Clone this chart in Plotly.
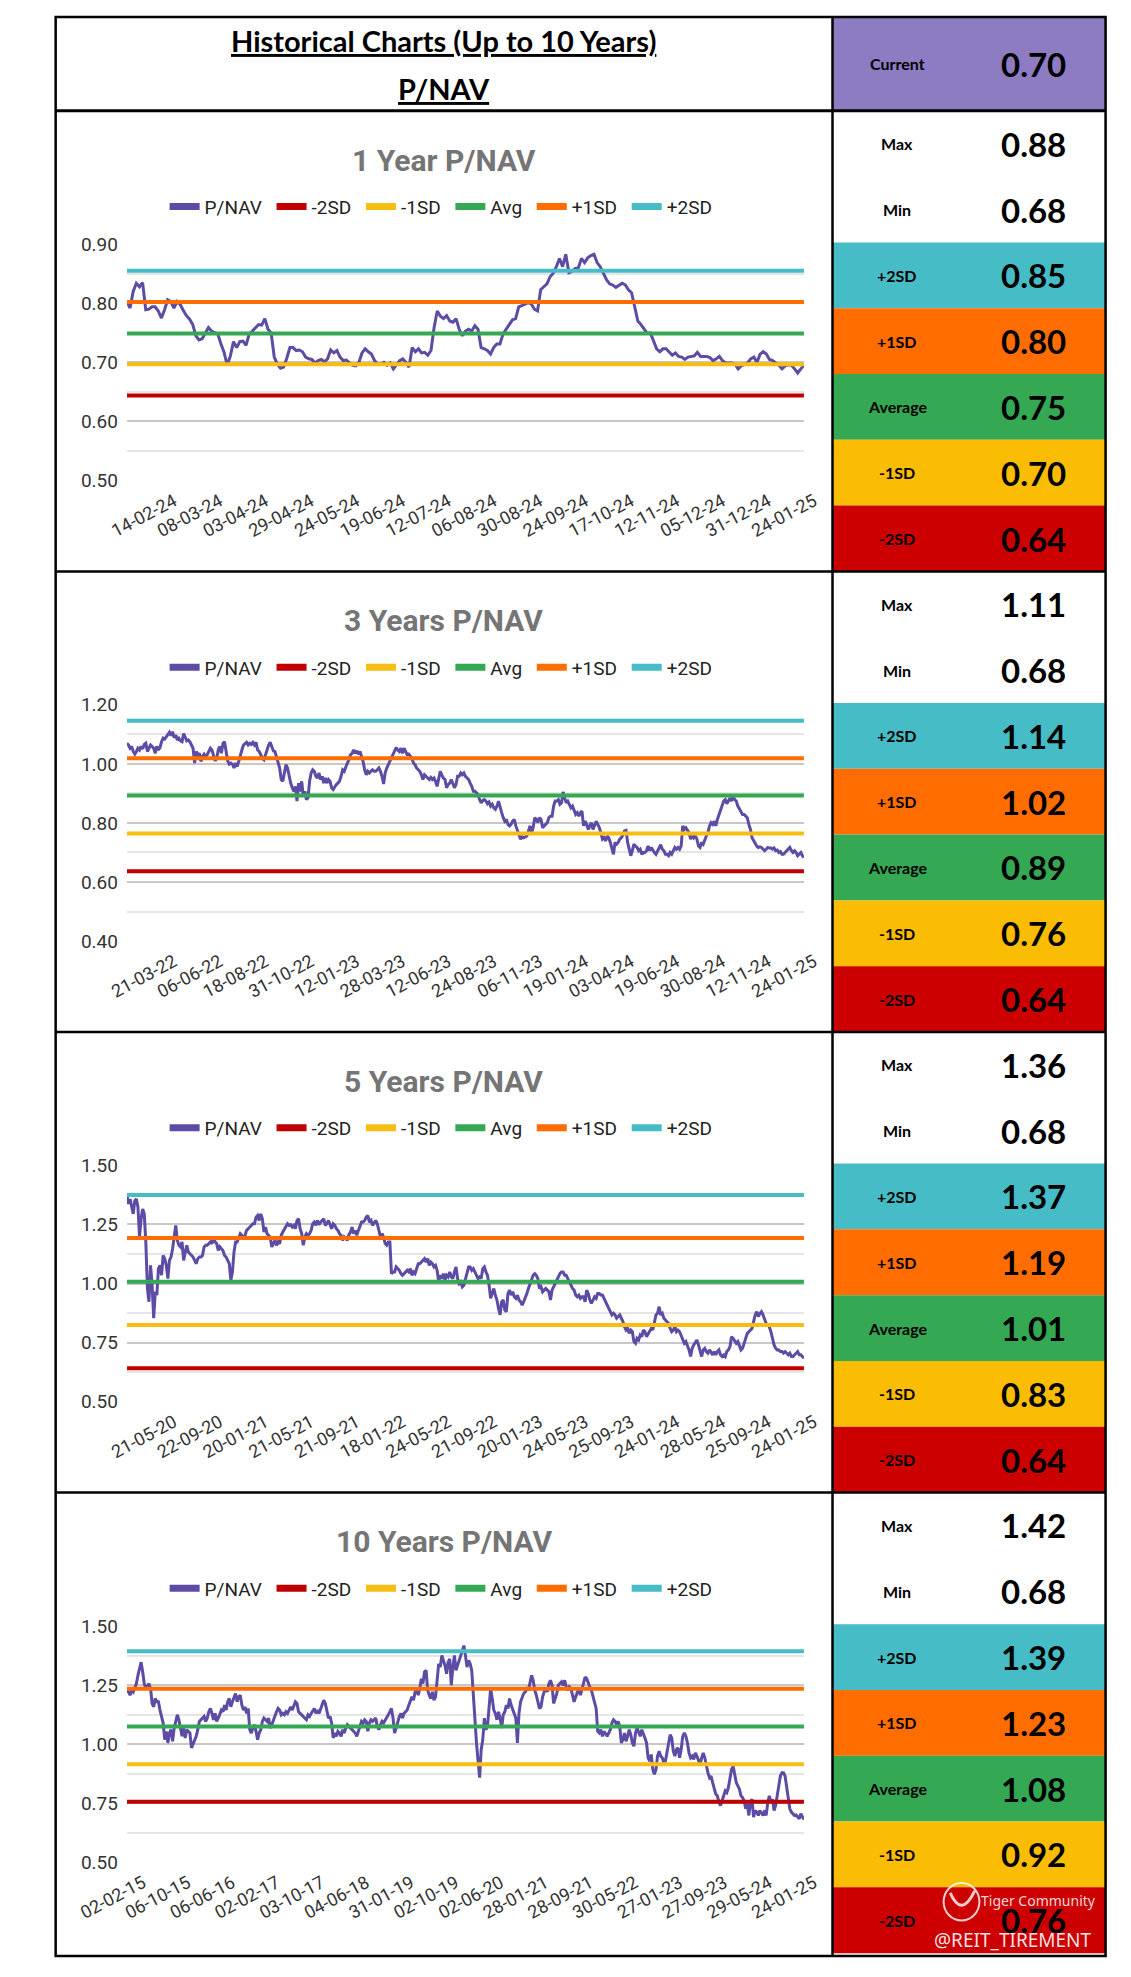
import numpy as np
import plotly.graph_objects as go

# ---------------- DATA ----------------
chart_titles = ["1 Year P/NAV", "3 Years P/NAV", "5 Years P/NAV", "10 Years P/NAV"]

pnav_1y = [
    0.803, 0.792, 0.820, 0.834, 0.828, 0.835, 0.789, 0.790, 0.794, 0.794,
    0.787, 0.775, 0.789, 0.806, 0.803, 0.792, 0.803, 0.798, 0.788, 0.779,
    0.773, 0.764, 0.745, 0.738, 0.740, 0.750, 0.759, 0.753, 0.751, 0.748,
    0.731, 0.717, 0.695, 0.711, 0.735, 0.725, 0.735, 0.736, 0.729, 0.748,
    0.753, 0.759, 0.764, 0.763, 0.774, 0.756, 0.750, 0.709, 0.697, 0.690,
    0.692, 0.707, 0.725, 0.725, 0.720, 0.721, 0.718, 0.709, 0.706, 0.705,
    0.699, 0.703, 0.705, 0.701, 0.706, 0.721, 0.716, 0.720, 0.709, 0.703,
    0.704, 0.699, 0.695, 0.694, 0.700, 0.716, 0.723, 0.718, 0.714, 0.703,
    0.697, 0.697, 0.700, 0.695, 0.699, 0.689, 0.697, 0.703, 0.706, 0.700,
    0.692, 0.725, 0.718, 0.723, 0.716, 0.717, 0.712, 0.720, 0.759, 0.787,
    0.778, 0.774, 0.779, 0.770, 0.768, 0.774, 0.756, 0.745, 0.753, 0.756,
    0.753,
    0.762, 0.756, 0.725, 0.723, 0.720, 0.714, 0.725, 0.731, 0.731, 0.748,
    0.756, 0.762, 0.772, 0.774, 0.794, 0.796, 0.799, 0.801, 0.799, 0.790,
    0.787, 0.823, 0.828, 0.833, 0.845, 0.851, 0.862, 0.876, 0.862, 0.883,
    0.852, 0.854, 0.859, 0.860, 0.876, 0.869, 0.877, 0.881, 0.883, 0.869,
    0.862, 0.850, 0.840, 0.833, 0.831, 0.827, 0.831, 0.834, 0.831, 0.823,
    0.818, 0.795, 0.770, 0.764, 0.756, 0.749, 0.750, 0.736, 0.723, 0.718,
    0.723, 0.723, 0.718, 0.712, 0.716, 0.710, 0.709, 0.705, 0.709, 0.710,
    0.711, 0.717, 0.710, 0.710, 0.710, 0.708, 0.703, 0.706, 0.710, 0.703,
    0.699, 0.699, 0.699, 0.697, 0.689, 0.694, 0.696, 0.699, 0.706, 0.709,
    0.700, 0.714, 0.718, 0.714, 0.705, 0.703, 0.699, 0.695, 0.689, 0.694,
    0.696, 0.695, 0.689, 0.682, 0.689, 0.695,
]

pnav_3y = [
    1.070, 1.064, 1.053, 1.059, 1.042, 1.033, 1.042, 1.053, 1.047, 1.059,
    1.051, 1.066, 1.070, 1.042, 1.053, 1.064, 1.059, 1.053, 1.036, 1.059,
    1.047, 1.055, 1.075, 1.087, 1.084, 1.092, 1.098, 1.107, 1.096, 1.109,
    1.089, 1.098, 1.081, 1.087, 1.078, 1.075, 1.103, 1.092, 1.078, 1.081,
    1.075, 1.064, 1.053, 1.003, 1.042, 1.031, 1.036, 1.008, 1.025, 1.033,
    1.025, 1.031, 1.042, 1.053, 1.047, 1.025, 1.010, 1.019, 1.047, 1.059,
    1.036, 1.070, 1.075, 1.042, 1.010, 0.999, 1.003, 0.999, 0.986, 1.003,
    0.991, 1.008, 1.031, 1.047, 1.064, 1.070, 1.073, 1.064, 1.070, 1.066,
    1.073, 1.064, 1.073, 1.047, 1.042, 1.031, 1.019, 1.014, 1.031, 1.042,
    1.064, 1.073, 1.059, 1.044, 1.042, 1.025, 1.003, 0.986, 0.947, 0.941,
    0.969, 0.997, 0.986, 0.958, 0.935, 0.919, 0.907, 0.924, 0.874, 0.935,
    0.907, 0.941, 0.891, 0.907, 0.879, 0.885, 0.941, 0.969, 0.980, 0.975,
    0.958, 0.952, 0.969, 0.947, 0.958, 0.935, 0.952, 0.935, 0.947, 0.941,
    0.919, 0.913, 0.924, 0.930, 0.935, 0.941, 0.958, 0.980, 0.975, 0.991,
    1.003, 1.014, 1.031, 1.036, 1.047, 1.036, 1.044, 1.033, 1.042, 1.025,
    1.008, 0.980, 0.963, 0.975, 0.969, 0.975, 0.980, 0.975, 0.975, 0.980,
    0.986, 0.975, 0.958, 0.932, 0.969, 0.986, 0.997, 1.008, 1.019, 1.031,
    1.042, 1.055, 1.047, 1.042, 1.053, 1.036, 1.053, 1.042, 1.031, 1.033,
    1.025, 1.019, 1.003, 0.997, 0.986, 0.980, 0.975, 0.963, 0.947, 0.963,
    0.958, 0.952, 0.947, 0.954, 0.947, 0.952, 0.941, 0.924, 0.947, 0.975,
    0.963, 0.952, 0.947, 0.919, 0.930, 0.935, 0.947, 0.935, 0.919, 0.930,
    0.958, 0.958, 0.969, 0.963, 0.969, 0.958, 0.952, 0.947, 0.935, 0.924,
    0.907,
    0.907, 0.902, 0.896, 0.879, 0.868, 0.876, 0.879, 0.874, 0.865, 0.871,
    0.857, 0.863, 0.851, 0.846, 0.857, 0.874, 0.851, 0.835, 0.818, 0.806,
    0.812, 0.795, 0.790, 0.795, 0.806, 0.812, 0.790, 0.773, 0.762, 0.745,
    0.753, 0.750, 0.753, 0.756, 0.773, 0.790, 0.767, 0.784, 0.818, 0.812,
    0.801, 0.818, 0.812, 0.784, 0.790, 0.795, 0.801, 0.818, 0.823, 0.823,
    0.857, 0.874, 0.874, 0.879, 0.863, 0.868, 0.905, 0.885, 0.868, 0.874,
    0.863, 0.851, 0.857, 0.840, 0.829, 0.835, 0.823, 0.835, 0.840, 0.790,
    0.806, 0.795, 0.778, 0.790, 0.801, 0.778, 0.790, 0.806, 0.795, 0.784,
    0.767, 0.745, 0.750, 0.739, 0.756, 0.750, 0.734, 0.711, 0.694, 0.734,
    0.728, 0.734, 0.745, 0.750, 0.759, 0.773, 0.775, 0.734, 0.706, 0.689,
    0.706, 0.728, 0.722, 0.717, 0.706, 0.711, 0.694, 0.700, 0.700, 0.706,
    0.722, 0.706, 0.717, 0.706, 0.700, 0.694, 0.706, 0.717, 0.726, 0.711,
    0.706, 0.694, 0.694, 0.689, 0.700, 0.694, 0.706, 0.717, 0.711, 0.717,
    0.711, 0.722, 0.790, 0.778, 0.784, 0.773, 0.767, 0.745, 0.762, 0.750,
    0.756, 0.745, 0.722, 0.717, 0.734, 0.728, 0.745, 0.756, 0.767, 0.790,
    0.801, 0.795, 0.806, 0.790, 0.812, 0.829, 0.840, 0.857, 0.874, 0.879,
    0.865, 0.874, 0.885, 0.874, 0.891, 0.879, 0.874, 0.857, 0.846, 0.835,
    0.829, 0.829, 0.823, 0.818, 0.795, 0.778, 0.750, 0.739, 0.728, 0.722,
    0.717, 0.719, 0.717, 0.711, 0.706, 0.711, 0.717, 0.715, 0.715, 0.711,
    0.715, 0.706, 0.708, 0.700, 0.703, 0.694, 0.694, 0.700, 0.706, 0.711,
    0.717, 0.706, 0.700, 0.706, 0.700, 0.689, 0.694, 0.700, 0.689, 0.683,
]

pnav_5y = [
    1.375, 1.337, 1.358, 1.330, 1.295, 1.351, 1.358, 1.323, 1.197, 1.274,
    1.316, 1.295, 1.176, 0.979, 0.923, 1.077, 0.993, 0.853, 0.965, 0.951,
    1.063, 1.077, 1.035, 1.119, 1.105, 1.077, 1.021, 1.098, 1.112, 1.147,
    1.204, 1.246, 1.183, 1.162, 1.155, 1.176, 1.098, 1.140, 1.162, 1.133,
    1.126, 1.119, 1.112, 1.098, 1.084, 1.105, 1.112, 1.112, 1.119, 1.155,
    1.162, 1.162, 1.169, 1.176, 1.169, 1.197, 1.176, 1.169, 1.140, 1.155,
    1.147, 1.140, 1.119, 1.112, 1.098, 1.084, 1.014, 1.049, 1.133, 1.176,
    1.176, 1.190, 1.211, 1.204, 1.190, 1.204, 1.225, 1.232, 1.239, 1.246,
    1.253, 1.253, 1.281, 1.288, 1.267, 1.295, 1.274, 1.218, 1.239, 1.211,
    1.204, 1.197, 1.155, 1.169, 1.183, 1.162, 1.176, 1.169, 1.204, 1.218,
    1.232, 1.246, 1.253, 1.246, 1.249, 1.239, 1.246, 1.232, 1.267, 1.274,
    1.232, 1.211, 1.162, 1.197, 1.211, 1.204, 1.211, 1.225, 1.253, 1.260,
    1.246, 1.267, 1.249, 1.260, 1.267, 1.274, 1.246, 1.253, 1.267, 1.246,
    1.232, 1.253, 1.246, 1.232, 1.225, 1.211, 1.204, 1.183, 1.197, 1.190,
    1.183, 1.207, 1.218, 1.239, 1.211, 1.225, 1.204, 1.225, 1.239, 1.260,
    1.260, 1.267, 1.281, 1.288, 1.260, 1.267, 1.246, 1.260, 1.267, 1.253,
    1.218, 1.197, 1.211, 1.197, 1.169, 1.162, 1.176, 1.176, 1.042, 1.049,
    1.049, 1.070, 1.063, 1.056, 1.042, 1.035, 1.042, 1.049, 1.056, 1.049,
    1.063, 1.035, 1.049, 1.042, 1.063, 1.084, 1.084, 1.091, 1.098, 1.105,
    1.091, 1.105, 1.077, 1.091, 1.084, 1.070, 1.077, 1.056, 1.007, 1.035,
    1.021, 1.042, 1.014, 1.035, 1.028, 1.049, 1.028, 1.021, 1.049, 1.070,
    1.021, 1.000, 1.007, 0.986, 0.993, 1.021, 1.042, 1.070, 1.070, 1.056,
    1.063,
    1.049, 1.035, 1.021, 1.028, 1.021, 1.063, 1.070, 1.049, 1.035, 0.993,
    0.937, 0.958, 0.979, 0.951, 0.930, 0.895, 0.867, 0.923, 0.930, 0.888,
    0.881, 0.958, 0.972, 0.951, 0.965, 0.944, 0.937, 0.951, 0.930, 0.923,
    0.909, 0.923, 0.937, 0.958, 0.979, 1.000, 1.021, 1.035, 1.042, 1.035,
    1.021, 0.979, 0.986, 0.965, 0.972, 0.979, 0.972, 0.965, 0.930, 0.972,
    0.986, 1.000, 1.021, 1.028, 1.042, 1.049, 1.049, 1.035, 1.035, 1.021,
    1.007, 0.986, 0.979, 0.972, 0.951, 0.944, 0.951, 0.937, 0.944, 0.944,
    0.923, 0.972, 0.958, 0.930, 0.916, 0.930, 0.944, 0.937, 0.958, 0.958,
    0.951, 0.951, 0.937, 0.916, 0.902, 0.888, 0.881, 0.867, 0.874, 0.867,
    0.853, 0.860, 0.867, 0.853, 0.839, 0.817, 0.803, 0.810, 0.789, 0.803,
    0.796, 0.754, 0.747, 0.768, 0.761, 0.782, 0.775, 0.803, 0.796, 0.775,
    0.789, 0.803, 0.810, 0.803, 0.831, 0.867, 0.874, 0.902, 0.867, 0.874,
    0.853, 0.846, 0.839, 0.831, 0.810, 0.796, 0.803, 0.817, 0.796, 0.803,
    0.796, 0.782, 0.768, 0.747, 0.754, 0.740, 0.719, 0.691, 0.726, 0.740,
    0.754, 0.761, 0.740, 0.719, 0.691, 0.719, 0.726, 0.712, 0.705, 0.719,
    0.705, 0.698, 0.712, 0.698, 0.712, 0.719, 0.698, 0.691, 0.698, 0.691,
    0.712, 0.719, 0.733, 0.775, 0.768, 0.754, 0.747, 0.754, 0.733, 0.719,
    0.726, 0.747, 0.775, 0.789, 0.796, 0.803, 0.810, 0.839, 0.867, 0.881,
    0.860, 0.874, 0.881, 0.867, 0.846, 0.831, 0.824, 0.817, 0.796, 0.761,
    0.740, 0.726, 0.719, 0.719, 0.712, 0.712, 0.705, 0.712, 0.705, 0.698,
    0.705, 0.691, 0.691, 0.698, 0.705, 0.712, 0.698, 0.698, 0.691, 0.684,
]

pnav_10y = [
    1.228, 1.221, 1.207, 1.228, 1.221, 1.235, 1.256, 1.291, 1.326, 1.347,
    1.305, 1.256, 1.235, 1.249, 1.256, 1.235, 1.172, 1.158, 1.193, 1.179,
    1.179, 1.144, 1.117, 1.089, 1.019, 1.054, 1.005, 1.047, 1.061, 1.012,
    1.068, 1.096, 1.124, 1.103, 1.061, 1.033, 1.068, 1.026, 1.061, 1.054,
    1.047, 0.984, 0.998, 1.019, 1.033, 1.061, 1.096, 1.103, 1.110, 1.117,
    1.096, 1.110, 1.137, 1.151, 1.130, 1.103, 1.130, 1.096, 1.110, 1.130,
    1.144, 1.137, 1.165, 1.144, 1.179, 1.193, 1.158, 1.179, 1.200, 1.214,
    1.179, 1.200, 1.207, 1.165, 1.144, 1.158, 1.130, 1.151, 1.061, 1.047,
    1.068, 1.082, 1.054, 1.019, 1.047, 1.061, 1.096, 1.110, 1.103, 1.096,
    1.110, 1.068, 1.082, 1.103, 1.117, 1.137, 1.151, 1.144, 1.124, 1.130,
    1.124, 1.137, 1.130, 1.144, 1.158, 1.144, 1.158, 1.179, 1.172, 1.137,
    1.130, 1.124, 1.117, 1.110, 1.103, 1.124, 1.117, 1.130, 1.144, 1.151,
    1.130, 1.144, 1.130, 1.151, 1.165, 1.186, 1.172, 1.137, 1.110, 1.117,
    1.089, 1.026, 1.047, 1.033, 1.054, 1.047, 1.033, 1.061, 1.047, 1.068,
    1.082, 1.075, 1.068, 1.061, 1.054, 1.047, 1.033, 1.054, 1.075, 1.096,
    1.089, 1.103, 1.096, 1.054, 1.089, 1.103, 1.096, 1.103, 1.110, 1.075,
    1.061, 1.082, 1.096, 1.089, 1.103, 1.110, 1.124, 1.137, 1.151, 1.110,
    1.047, 1.068, 1.096, 1.117, 1.130, 1.110, 1.130, 1.137, 1.144, 1.165,
    1.186, 1.200, 1.186, 1.221, 1.235, 1.207, 1.235, 1.277, 1.256, 1.305,
    1.312, 1.228, 1.207, 1.193, 1.221, 1.186, 1.200, 1.270, 1.340, 1.326,
    1.375, 1.354, 1.333, 1.298, 1.347, 1.361, 1.249, 1.326, 1.375, 1.312,
    1.333, 1.361, 1.375, 1.396, 1.417, 1.375, 1.326, 1.354, 1.340, 1.312,
    1.207,
    1.075, 1.005, 0.928, 0.858, 0.977, 1.019, 1.110, 1.061, 1.075, 1.158,
    1.235, 1.193, 1.144, 1.130, 1.103, 1.137, 1.110, 1.068, 1.124, 1.137,
    1.165, 1.151, 1.193, 1.165, 1.144, 1.130, 1.110, 1.005, 1.130, 1.179,
    1.200, 1.214, 1.221, 1.235, 1.228, 1.256, 1.291, 1.270, 1.228, 1.207,
    1.179, 1.151, 1.158, 1.200, 1.221, 1.235, 1.221, 1.256, 1.270, 1.249,
    1.172, 1.193, 1.214, 1.249, 1.256, 1.263, 1.249, 1.270, 1.242, 1.228,
    1.242, 1.235, 1.207, 1.179, 1.200, 1.214, 1.235, 1.207, 1.235, 1.263,
    1.284, 1.277, 1.256, 1.242, 1.228, 1.200, 1.179, 1.151, 1.054, 1.047,
    1.061, 1.033, 1.054, 1.040, 1.033, 1.047, 1.061, 1.089, 1.103, 1.096,
    1.082, 1.096, 1.075, 1.005, 1.019, 1.047, 1.012, 1.033, 1.061, 1.040,
    1.005, 0.991, 1.047, 1.068, 1.054, 1.033, 1.061, 1.047, 1.026, 1.005,
    0.942, 0.928, 0.956, 0.893, 0.872, 0.893, 0.949, 0.970, 0.949, 0.942,
    0.921, 0.928, 0.963, 1.005, 1.040, 1.026, 0.970, 0.949, 0.977, 0.984,
    0.942, 0.977, 1.033, 1.047, 1.033, 1.005, 0.963, 0.942, 0.949, 0.935,
    0.963, 0.949, 0.935, 0.914, 0.942, 0.963, 0.942, 0.907, 0.879, 0.858,
    0.865, 0.837, 0.809, 0.788, 0.781, 0.753, 0.740, 0.767, 0.781, 0.802,
    0.795, 0.816, 0.851, 0.893, 0.907, 0.865, 0.837, 0.823, 0.809, 0.781,
    0.774, 0.760, 0.726, 0.747, 0.698, 0.753, 0.767, 0.691, 0.719, 0.712,
    0.698, 0.719, 0.705, 0.698, 0.719, 0.698, 0.753, 0.781, 0.753, 0.767,
    0.719, 0.740, 0.781, 0.823, 0.865, 0.879, 0.879, 0.865, 0.823, 0.781,
    0.726, 0.712, 0.705, 0.698, 0.700, 0.691, 0.684, 0.705, 0.691, 0.681,
]

# band levels as drawn: -2SD, -1SD, Avg, +1SD, +2SD
bands_1y = [0.644, 0.697, 0.749, 0.802, 0.855]
bands_3y = [0.636, 0.764, 0.893, 1.019, 1.146]
bands_5y = [0.641, 0.824, 1.007, 1.193, 1.375]
bands_10y = [0.756, 0.915, 1.075, 1.234, 1.393]

ticks_1y = ["14-02-24", "08-03-24", "03-04-24", "29-04-24", "24-05-24", "19-06-24", "12-07-24",
            "06-08-24", "30-08-24", "24-09-24", "17-10-24", "12-11-24", "05-12-24", "31-12-24", "24-01-25"]
ticks_3y = ["21-03-22", "06-06-22", "18-08-22", "31-10-22", "12-01-23", "28-03-23", "12-06-23",
            "24-08-23", "06-11-23", "19-01-24", "03-04-24", "19-06-24", "30-08-24", "12-11-24", "24-01-25"]
ticks_5y = ["21-05-20", "22-09-20", "20-01-21", "21-05-21", "21-09-21", "18-01-22", "24-05-22",
            "21-09-22", "20-01-23", "24-05-23", "25-09-23", "24-01-24", "28-05-24", "25-09-24", "24-01-25"]
ticks_10y = ["02-02-15", "06-10-15", "06-06-16", "02-02-17", "03-10-17", "04-06-18", "31-01-19", "02-10-19",
             "02-06-20", "28-01-21", "28-09-21", "30-05-22", "27-01-23", "27-09-23", "29-05-24", "24-01-25"]

table_labels = ["Max", "Min", "+2SD", "+1SD", "Average", "-1SD", "-2SD"]
table_1y = [0.88, 0.68, 0.85, 0.80, 0.75, 0.70, 0.64]
table_3y = [1.11, 0.68, 1.14, 1.02, 0.89, 0.76, 0.64]
table_5y = [1.36, 0.68, 1.37, 1.19, 1.01, 0.83, 0.64]
table_10y = [1.42, 0.68, 1.39, 1.23, 1.08, 0.92, 0.76]
current_value = 0.70

y_ranges = [(0.5, 0.9), (0.4, 1.2), (0.5, 1.5), (0.5, 1.5)]
y_major = [0.1, 0.2, 0.25, 0.25]
y_minor = [0.05, 0.1, 0.125, 0.125]

# ---------------- STYLE / LAYOUT ----------------
W, H = 1131, 1977


def X(px):
    return px / W


def Y(py):
    return 1 - py / H


series = [pnav_1y, pnav_3y, pnav_5y, pnav_10y]
bands = [bands_1y, bands_3y, bands_5y, bands_10y]
ticks = [ticks_1y, ticks_3y, ticks_5y, ticks_10y]
tables = [table_1y, table_3y, table_5y, table_10y]
first_tick_px = [121, 121, 121, 88]

band_names = ["-2SD", "-1SD", "Avg", "+1SD", "+2SD"]
band_colors = ["#C00000", "#F6BE12", "#34A853", "#FF6D01", "#46BDC6"]
pnav_color = "#5E4BA5"
row_colors = ["#FFFFFF", "#FFFFFF", "#46BDC6", "#FF6D01", "#34A853", "#FBBC04", "#CC0000"]

PLOT_L, PLOT_R = 81.7, 800.7
COL_X = 831
RIGHT = 1121
panel_tops = [101, 567, 1033, 1499]
PANEL_H = 466
BOTTOM = 1968

fig = go.Figure()
layout = dict(
    width=W, height=H, margin=dict(l=0, r=0, t=0, b=0),
    paper_bgcolor="white", plot_bgcolor="white", showlegend=True,
    hovermode=False,
)
shapes = []
annotations = []

for i in range(4):
    vals = series[i]
    n = len(vals)
    xs = list(range(n))
    sfx = "" if i == 0 else str(i + 1)
    xa, ya = "x" + sfx, "y" + sfx
    lg = "legend" if i == 0 else "legend" + str(i + 1)
    top = panel_tops[i]

    fig.add_trace(go.Scatter(x=xs, y=vals, mode="lines", line=dict(color=pnav_color, width=3),
                             showlegend=False, xaxis=xa, yaxis=ya, hoverinfo="skip"))
    for b, v in enumerate(bands[i]):
        fig.add_trace(go.Scatter(x=[0, n - 1], y=[v, v], mode="lines",
                                 line=dict(color=band_colors[b], width=4),
                                 showlegend=False, xaxis=xa, yaxis=ya, hoverinfo="skip"))
    # legend entries
    for name, col in zip(["P/NAV"] + band_names, [pnav_color] + band_colors):
        fig.add_trace(go.Scatter(x=[None], y=[None], mode="lines", name=name + "\u00a0",
                                 line=dict(color=col, width=7), legend=lg,
                                 xaxis=xa, yaxis=ya, hoverinfo="skip"))

    nt = len(ticks[i])
    t0 = (first_tick_px[i] - PLOT_L) / (PLOT_R - PLOT_L) * (n - 1)
    tickvals = list(np.linspace(t0, n - 1, nt))

    layout["xaxis" + sfx] = dict(
        domain=[X(PLOT_L), X(PLOT_R)], range=[0, n - 1], anchor=ya,
        showgrid=False, zeroline=False, showline=False, ticks="",
        tickmode="array", tickvals=tickvals, ticktext=ticks[i], tickangle=-28,
        tickfont=dict(family="Roboto", size=18, color="#333333"),
        ticklabelshift=10, ticklabelstandoff=6, fixedrange=True,
    )
    lo, hi = y_ranges[i]
    layout["yaxis" + sfx] = dict(
        domain=[Y(top + 374), Y(top + 135)], range=[lo, hi], anchor=xa,
        tick0=lo, dtick=y_major[i], tickformat=".2f",
        showgrid=True, gridcolor="#C8C8C8", gridwidth=1.5,
        minor=dict(tick0=lo, dtick=y_minor[i], showgrid=True, gridcolor="#E6E6E6", gridwidth=1.5),
        zeroline=False, showline=False, ticks="",
        tickfont=dict(family="Roboto", size=19, color="#333333"),
        ticklabelstandoff=8, fixedrange=True,
    )
    layout[lg] = dict(
        orientation="h", x=X(418), xanchor="center", y=Y(top + 97), yanchor="middle",
        font=dict(family="Roboto", size=19, color="#222222"), itemwidth=30,
        bgcolor="rgba(0,0,0,0)", traceorder="normal", itemclick=False, itemdoubleclick=False,
    )

    # chart title
    annotations.append(dict(x=X(418), y=Y(top + 50), xref="paper", yref="paper", showarrow=False,
                            text="<b>" + chart_titles[i] + "</b>", xanchor="center", yanchor="middle",
                            font=dict(family="Roboto", size=30, color="#757575")))

    # right-hand table
    rh = PANEL_H / 7
    for r in range(7):
        y0 = top + r * rh
        shapes.append(dict(type="rect", xref="paper", yref="paper", x0=X(COL_X), x1=X(RIGHT),
                           y0=Y(y0 + rh), y1=Y(y0), fillcolor=row_colors[r], line=dict(width=0),
                           layer="below"))
        annotations.append(dict(x=X(900), y=Y(y0 + rh / 2), xref="paper", yref="paper", showarrow=False,
                                text="<b>" + table_labels[r] + "</b>", xanchor="center", yanchor="middle",
                                font=dict(family="Lato", size=16, color="#000000")))
        annotations.append(dict(x=X(1044), y=Y(y0 + rh / 2), xref="paper", yref="paper", showarrow=False,
                                text="<b>" + f"{tables[i][r]:.2f}" + "</b>", xanchor="center", yanchor="middle",
                                font=dict(family="Lato", size=33, color="#000000")))

# header
shapes.append(dict(type="rect", xref="paper", yref="paper", x0=X(COL_X), x1=X(RIGHT), y0=Y(101), y1=Y(6),
                   fillcolor="#8E7CC3", line=dict(width=0), layer="below"))
annotations.append(dict(x=X(418), y=Y(30), xref="paper", yref="paper", showarrow=False,
                        text="<b><u>Historical Charts (Up to 10 Years)</u></b>", xanchor="center",
                        yanchor="middle", font=dict(family="Lato", size=29, color="#000000")))
annotations.append(dict(x=X(418), y=Y(78), xref="paper", yref="paper", showarrow=False,
                        text="<b><u>P/NAV</u></b>", xanchor="center",
                        yanchor="middle", font=dict(family="Lato", size=29, color="#000000")))
annotations.append(dict(x=X(900), y=Y(53.5), xref="paper", yref="paper", showarrow=False,
                        text="<b>Current</b>", xanchor="center", yanchor="middle",
                        font=dict(family="Lato", size=16, color="#000000")))
annotations.append(dict(x=X(1044), y=Y(53.5), xref="paper", yref="paper", showarrow=False,
                        text="<b>" + f"{current_value:.2f}" + "</b>", xanchor="center", yanchor="middle",
                        font=dict(family="Lato", size=33, color="#000000")))

# borders
line_k = dict(color="#000000", width=2.5)
shapes.append(dict(type="rect", xref="paper", yref="paper", x0=X(6), x1=X(RIGHT), y0=Y(BOTTOM), y1=Y(6),
                   line=line_k, fillcolor="rgba(0,0,0,0)", layer="above"))
for yy in panel_tops:
    shapes.append(dict(type="line", xref="paper", yref="paper", x0=X(6), x1=X(RIGHT), y0=Y(yy), y1=Y(yy),
                       line=dict(color="#000000", width=3 if yy == 101 else 2.5), layer="above"))
shapes.append(dict(type="line", xref="paper", yref="paper", x0=X(COL_X), x1=X(COL_X), y0=Y(6), y1=Y(BOTTOM),
                   line=line_k, layer="above"))

# watermark
shapes.append(dict(type="circle", xref="paper", yref="paper", x0=X(949), x1=X(987), y0=Y(1932), y1=Y(1894),
                   line=dict(color="rgba(255,255,255,0.8)", width=2), fillcolor="rgba(0,0,0,0)", layer="above"))
shapes.append(dict(type="path", xref="paper", yref="paper",
                   path=f"M {X(956)},{Y(1904)} Q {X(968)},{Y(1930)} {X(982)},{Y(1902)}",
                   line=dict(color="rgba(255,255,255,0.8)", width=3), layer="above"))
annotations.append(dict(x=X(1050), y=Y(1912), xref="paper", yref="paper", showarrow=False,
                        text="Tiger Community", xanchor="center", yanchor="middle",
                        font=dict(family="Noto Sans", size=14, color="rgba(255,255,255,0.85)")))
annotations.append(dict(x=X(1023), y=Y(1952), xref="paper", yref="paper", showarrow=False,
                        text="@REIT_TIREMENT", xanchor="center", yanchor="middle",
                        font=dict(family="Noto Sans", size=19, color="rgba(255,255,255,0.9)")))

layout["shapes"] = shapes
layout["annotations"] = annotations
fig.update_layout(**layout)

fig.write_html("out.html", include_plotlyjs=True, config={"displayModeBar": False},
               post_script="document.body.style.margin='0';")
